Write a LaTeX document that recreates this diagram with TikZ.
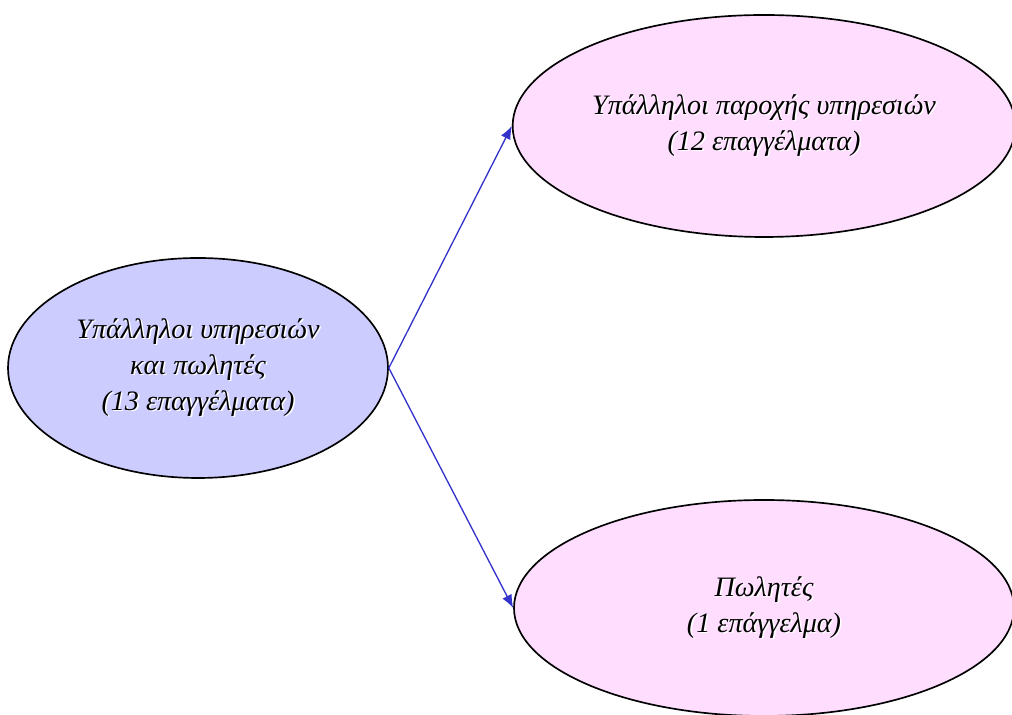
\documentclass[tikz,border=0pt]{standalone}
\usepackage{fontspec}
\setmainfont{Liberation Serif}
\usetikzlibrary{shapes.geometric, arrows.meta}
\definecolor{groupblue}{RGB}{204, 204, 255}
\definecolor{grouppink}{RGB}{255, 221, 255}
\definecolor{linkblue}{RGB}{51, 51, 204}
\newcommand{\shline}[1]{\makebox[0pt][l]{\hspace{0.9pt}\raisebox{-0.9pt}{\textcolor{white}{#1}}}#1}

\begin{document}
\begin{tikzpicture}[
    every node/.style={draw, ellipse, line width=0.95pt, align=center, font=\fontsize{16}{20.5}\selectfont\itshape},
    arrow/.style={-{Latex[length=7.5pt, width=6pt]}, line width=0.75pt, linkblue}
  ]
    \useasboundingbox (0,0) rectangle (20.24,14.3);
    \node[fill=groupblue, minimum width=7.6cm, minimum height=4.4cm] (all) at (3.96,6.94)
      {\shline{Υπάλληλοι υπηρεσιών}\\ \shline{και πωλητές}\\ \shline{(13 επαγγέλματα)}};
    \node[fill=grouppink, minimum width=9.96cm, minimum height=4.44cm] (service) at (15.28,11.78)
      {\shline{Υπάλληλοι παροχής υπηρεσιών}\\ \shline{(12 επαγγέλματα)}};
    \node[fill=grouppink, minimum width=10cm, minimum height=4.32cm] (sales) at (15.28,2.14)
      {\shline{Πωλητές}\\ \shline{(1 επάγγελμα)}};
    \draw[arrow] (all.east) -- (service.west);
    \draw[arrow] (all.east) -- (sales.west);
  \end{tikzpicture}
\end{document}
